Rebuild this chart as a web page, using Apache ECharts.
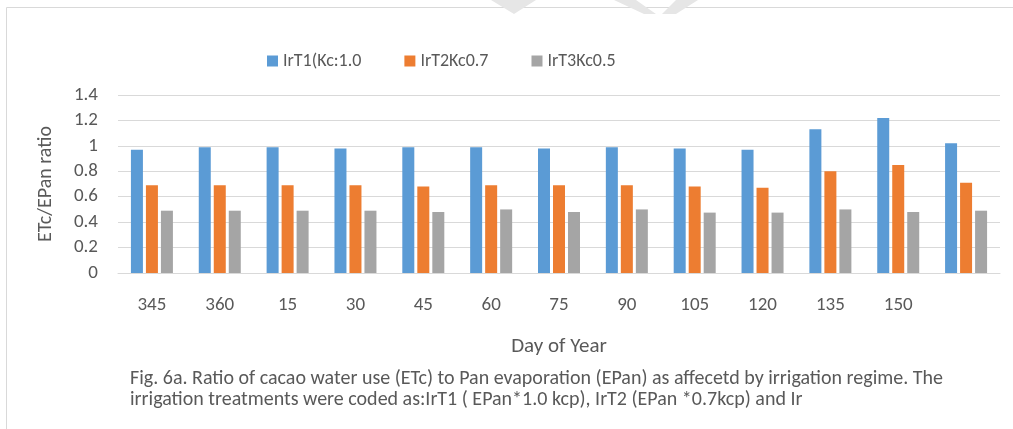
<!DOCTYPE html>
<html>
<head>
<meta charset="utf-8">
<script src="https://cdn.jsdelivr.net/npm/echarts@6/dist/echarts.min.js"></script>
<style>
  html, body { margin: 0; padding: 0; background: #fff; }
  #chart { width: 1013px; height: 429px; }
</style>
</head>
<body>
<div id="chart"></div>
<script>
// day of year (last group has no label)
var days = ['345', '360', '15', '30', '45', '60', '75', '90', '105', '120', '135', '150', '']
var irT1 = [0.97, 0.99, 0.99, 0.98, 0.99, 0.99, 0.98, 0.99, 0.98, 0.97, 1.13, 1.22, 1.02]
var irT2 = [0.69, 0.69, 0.69, 0.69, 0.68, 0.69, 0.69, 0.69, 0.68, 0.67, 0.80, 0.85, 0.71]
var irT3 = [0.49, 0.49, 0.49, 0.49, 0.48, 0.50, 0.48, 0.50, 0.475, 0.475, 0.50, 0.48, 0.49]
var seriesNames = ['IrT1(Kc:1.0', 'IrT2Kc0.7', 'IrT3Kc0.5']

var textColor = '#595959'
var lineColor = '#d9d9d9'
var font = 'Carlito, "Open Sans", sans-serif'

var chart = echarts.init(document.getElementById('chart'))

function barSeries(name, data, color) {
  return {
    name: name,
    type: 'bar',
    barWidth: 12,
    barGap: '25%',
    itemStyle: {color: color},
    data: data
  }
}

chart.setOption({
  animation: false,
  textStyle: {fontFamily: font},
  legend: {
    left: 262,
    top: 47,
    icon: 'rect',
    itemWidth: 11,
    itemHeight: 11,
    itemGap: 43,
    textStyle: {color: textColor, fontSize: 18, fontFamily: font},
    data: seriesNames
  },
  grid: {left: 118, right: 13, top: 95, bottom: 156},
  xAxis: {
    type: 'category',
    data: days,
    name: 'Day of Year',
    nameLocation: 'middle',
    nameGap: 63,
    nameTextStyle: {color: textColor, fontSize: 21, fontFamily: font},
    axisLine: {lineStyle: {color: lineColor}},
    axisTick: {show: false},
    axisLabel: {color: textColor, fontSize: 19, margin: 23}
  },
  yAxis: {
    type: 'value',
    min: 0,
    max: 1.4,
    interval: 0.2,
    name: 'ETc/EPan ratio',
    nameLocation: 'middle',
    nameGap: 62,
    nameTextStyle: {color: textColor, fontSize: 20, fontFamily: font},
    axisLine: {show: false},
    axisTick: {show: false},
    splitLine: {lineStyle: {color: lineColor, width: 1}},
    axisLabel: {
      color: textColor,
      fontSize: 19,
      margin: 20,
      formatter: function (v) { return String(Math.round(v * 10) / 10) }
    }
  },
  series: [
    barSeries(seriesNames[0], irT1, '#5B9BD5'),
    barSeries(seriesNames[1], irT2, '#ED7D31'),
    barSeries(seriesNames[2], irT3, '#A5A5A5')
  ],
  graphic: [
    // page frame and faint watermark pieces
    {type: 'line', shape: {x1: 6.5, y1: 7.5, x2: 1013, y2: 7.5}, style: {stroke: lineColor, lineWidth: 1}},
    {type: 'line', shape: {x1: 6.5, y1: 7.5, x2: 6.5, y2: 429}, style: {stroke: lineColor, lineWidth: 1}},
    {type: 'polygon', shape: {points: [[491, 0], [536, 0], [514, 14]]}, style: {fill: '#e6e6e6'}},
    {type: 'polygon', shape: {points: [[614, 0], [636, 0], [656, 14], [644, 14]]}, style: {fill: '#e6e6e6'}},
    {type: 'polygon', shape: {points: [[676, 0], [698, 0], [676, 14], [662, 14]]}, style: {fill: '#e6e6e6'}},
    {
      type: 'text', left: 130, top: 368,
      style: {
        text: 'Fig. 6a. Ratio of cacao water use (ETc) to Pan evaporation (EPan) as affecetd by irrigation regime. The\nirrigation treatments were coded as:IrT1 ( EPan*1.0 kcp), IrT2 (EPan *0.7kcp) and Ir',
        fill: textColor,
        fontSize: 20,
        lineHeight: 21,
        fontFamily: font
      }
    }
  ]
})
</script>
</body>
</html>
